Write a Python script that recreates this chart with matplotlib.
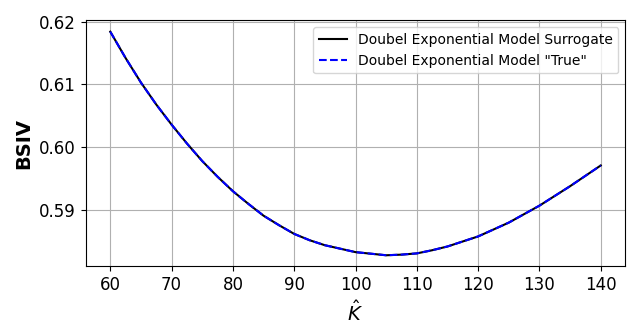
import numpy as np
import matplotlib
matplotlib.use("Agg")
import matplotlib.pyplot as plt

# strike grid and implied vols
k_hat = [60, 62.5, 65, 67.5, 70, 72.5, 75, 77.5, 80, 82.5, 85, 87.5, 90, 92.5, 95, 100,
         105, 107.5, 110, 112.5, 115, 117.5, 120, 125, 130, 135, 140]
bsiv_surrogate = [0.6184, 0.6142, 0.6103, 0.6068, 0.6036, 0.6006, 0.5978, 0.5953, 0.5930,
                  0.5910, 0.5891, 0.5876, 0.5862, 0.5852, 0.5844, 0.5833, 0.5828, 0.5829,
                  0.5831, 0.5836, 0.5842, 0.5850, 0.5858, 0.5880, 0.5907, 0.5938, 0.5971]
bsiv_true = list(bsiv_surrogate)

fig = plt.figure(figsize=(6.4, 3.36), dpi=100)
ax = fig.add_axes([0.134, 0.207, 0.843, 0.732])
ax.plot(k_hat, bsiv_surrogate, color="black", lw=1.5, label="Doubel Exponential Model Surrogate")
ax.plot(k_hat, bsiv_true, color="blue", ls="--", lw=1.5, label='Doubel Exponential Model "True"')
ax.set_xlabel(r"$\hat{K}$", fontsize=14)
ax.set_ylabel("BSIV", fontsize=14, fontweight="bold")
ax.set_xticks([60, 70, 80, 90, 100, 110, 120, 130, 140])
ax.set_yticks([0.59, 0.60, 0.61, 0.62])
ax.yaxis.set_major_formatter(matplotlib.ticker.FormatStrFormatter("%.2f"))
ax.tick_params(labelsize=12)
ax.grid(True)
ax.legend(loc="upper right", fontsize=10)
fig.savefig("out.png", dpi=100)
